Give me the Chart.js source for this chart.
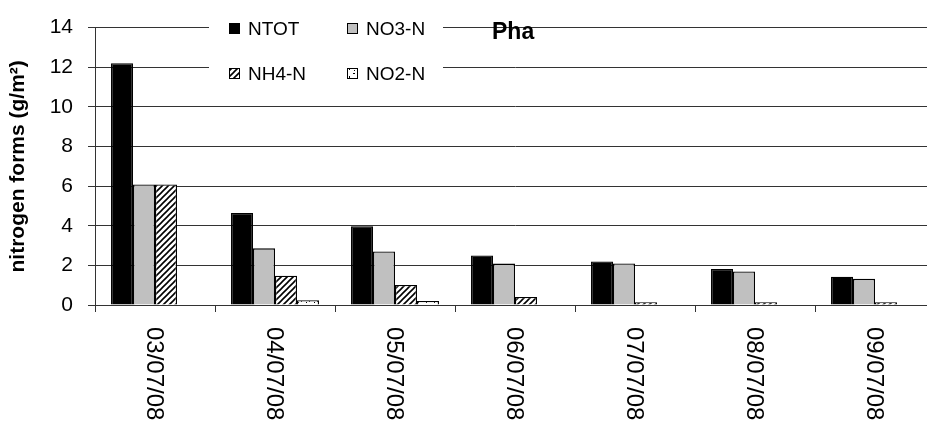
<!DOCTYPE html>
<html>
<head>
<meta charset="utf-8">
<script src="https://cdn.jsdelivr.net/npm/chart.js@4/dist/chart.umd.min.js"></script>
<style>
  html, body { margin: 0; padding: 0; background: #fff; overflow: hidden; }
  #wrap { width: 940px; height: 429px; }
</style>
</head>
<body>
<div id="wrap"><canvas id="chart-nitrogen" width="940" height="429"></canvas></div>
<script>
const dates = ['03/07/08', '04/07/08', '05/07/08', '06/07/08', '07/07/08', '08/07/08', '09/07/08'];
const ntot = [12.2, 4.64, 3.97, 2.5, 2.2, 1.82, 1.43];
const no3n = [6.08, 2.86, 2.7, 2.09, 2.1, 1.69, 1.32];
const nh4n = [6.08, 1.48, 1.01, 0.4, 0.14, 0.14, 0.14];
const no2n = [0, 0.24, 0.2, 0, 0, 0, 0];
const yTicks = [0, 2, 4, 6, 8, 10, 12, 14];

const FONT = 'Arial, "Liberation Sans", sans-serif';

// diagonal hatch for NH4-N
const makeHatch = () => {
  const n = 6;
  const c = document.createElement('canvas');
  c.width = n; c.height = n;
  const g = c.getContext('2d');
  g.fillStyle = '#fff';
  g.fillRect(0, 0, n, n);
  g.strokeStyle = '#000';
  g.lineWidth = 1.6;
  g.beginPath();
  g.moveTo(-1, n + 1); g.lineTo(n + 1, -1);
  g.moveTo(-1, 1); g.lineTo(1, -1);
  g.moveTo(n - 1, n + 1); g.lineTo(n + 1, n - 1);
  g.stroke();
  return g.createPattern(c, 'repeat');
};

// sparse dots for NO2-N
const makeDots = () => {
  const c = document.createElement('canvas');
  c.width = 8; c.height = 8;
  const g = c.getContext('2d');
  g.fillStyle = '#fff';
  g.fillRect(0, 0, 8, 8);
  g.fillStyle = '#000';
  g.fillRect(1, 1, 2, 1);
  g.fillRect(5, 4, 1, 2);
  g.fillRect(2, 6, 1, 1);
  return g.createPattern(c, 'repeat');
};

const series = [
  { label: 'NTOT', data: ntot, fill: '#000000' },
  { label: 'NO3-N', data: no3n, fill: '#c0c0c0' },
  { label: 'NH4-N', data: nh4n, fill: makeHatch() },
  { label: 'NO2-N', data: no2n, fill: makeDots() },
];

// rotated date labels reading top to bottom
const dateLabels = {
  id: 'dateLabels',
  afterDraw(chart) {
    const { ctx, scales } = chart;
    const x = scales.x;
    ctx.save();
    ctx.fillStyle = '#000';
    ctx.font = `24px ${FONT}`;
    ctx.textAlign = 'left';
    ctx.textBaseline = 'middle';
    dates.forEach((d, i) => {
      ctx.save();
      ctx.translate(x.getPixelForValue(i) - 1, x.top + 22);
      ctx.rotate(Math.PI / 2);
      ctx.fillText(d, 0, 0);
      ctx.restore();
    });
    ctx.restore();
  },
};

// boxed legend in the upper part of the plot, plus the panel title
const insetLegend = {
  id: 'insetLegend',
  afterDraw(chart) {
    const { ctx } = chart;
    ctx.save();
    ctx.fillStyle = '#fff';
    ctx.fillRect(209, 4, 234, 88);
    const cols = [229, 347];
    const rows = [29, 74];
    ctx.font = `19px ${FONT}`;
    ctx.textBaseline = 'middle';
    ctx.textAlign = 'left';
    series.forEach((s, i) => {
      const sx = cols[i % 2];
      const sy = rows[Math.floor(i / 2)];
      ctx.fillStyle = s.fill;
      ctx.fillRect(sx, sy - 6, 11, 11);
      ctx.strokeStyle = '#000';
      ctx.lineWidth = 1;
      ctx.strokeRect(sx + 0.5, sy - 5.5, 10, 10);
      ctx.fillStyle = '#000';
      ctx.fillText(s.label, sx + 19, sy + 1);
    });
    ctx.font = `bold 23px ${FONT}`;
    ctx.fillText('Pha', 492, 33);
    ctx.restore();
  },
};

const ctx = document.getElementById('chart-nitrogen').getContext('2d');
new Chart(ctx, {
  type: 'bar',
  data: {
    labels: dates,
    datasets: series.map((s) => ({
      label: s.label,
      data: s.data,
      backgroundColor: s.fill,
      borderColor: '#000',
      borderWidth: 1.3,
      categoryPercentage: 0.733,
      barPercentage: 1,
    })),
  },
  options: {
    responsive: false,
    animation: false,
    layout: { padding: { top: 15, right: 5, bottom: 0, left: 0 } },
    plugins: {
      legend: { display: false },
      tooltip: { enabled: false },
    },
    scales: {
      x: {
        offset: true,
        afterFit: (scale) => { scale.height = 124; },
        ticks: { display: false },
        grid: {
          offset: true,
          drawOnChartArea: false,
          tickLength: 7,
          color: '#333',
        },
        border: { color: '#333', width: 1 },
      },
      y: {
        min: 0,
        max: 14,
        afterFit: (scale) => { scale.width = 95; },
        afterBuildTicks: (scale) => { scale.ticks = yTicks.map((v) => ({ value: v })); },
        ticks: {
          color: '#000',
          padding: 15,
          font: { family: FONT, size: 21 },
        },
        grid: { color: '#333', tickLength: 7 },
        border: { color: '#333', width: 1 },
        title: {
          display: true,
          text: 'nitrogen forms (g/m²)',
          color: '#000',
          font: { family: FONT, size: 21, weight: 'bold' },
          padding: { top: 6, bottom: 0 },
        },
      },
    },
  },
  plugins: [dateLabels, insetLegend],
});
</script>
</body>
</html>
